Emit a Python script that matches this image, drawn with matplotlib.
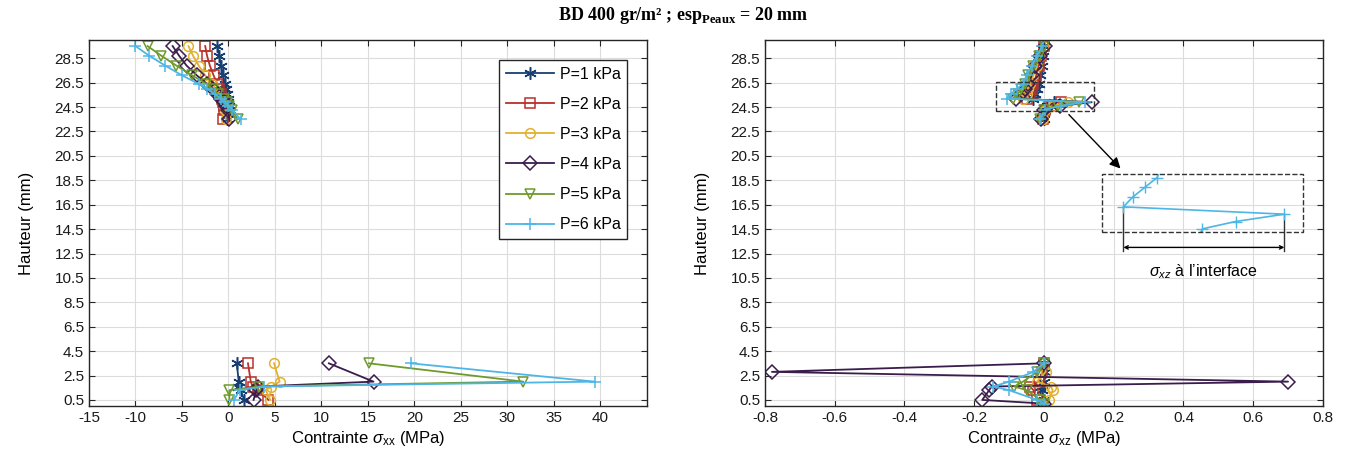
import matplotlib
matplotlib.use("Agg")
import matplotlib.pyplot as plt
import numpy as np
from matplotlib.patches import Rectangle

plt.rcParams['font.family'] = 'Liberation Sans'
plt.rcParams['axes.unicode_minus'] = False
plt.rcParams['mathtext.fontset'] = 'custom'
plt.rcParams['mathtext.rm'] = 'Liberation Sans'
plt.rcParams['mathtext.it'] = 'Liberation Sans:italic'
plt.rcParams['mathtext.bf'] = 'Liberation Serif:bold'

labels = ['P=1 kPa', 'P=2 kPa', 'P=3 kPa', 'P=4 kPa', 'P=5 kPa', 'P=6 kPa']
colors = ['#173f74', '#b8322a', '#e3b02f', '#3a1d4d', '#6f9a2c', '#4db6e6']
markers = [(6, 2, 0), 's', 'o', 'D', 'v', '+']

# heights (mm)
y_bot_xx = [0.5, 1.3, 1.6, 2.0, 3.5]
y_bot_xz = [0.2, 0.5, 1.3, 1.6, 2.0, 2.8, 3.5]
y_top = [23.5, 24.3, 24.6, 24.9, 25.2, 25.6, 26.0, 26.4, 27.1, 27.9, 28.7, 29.5]

# sigma_xx (MPa)
sxx_bot = [
    [1.7, 1.3, 1.0, 1.1, 0.9],
    [4.3, 3.2, 2.6, 2.4, 2.1],
    [4.5, 4.0, 4.6, 5.5, 4.9],
    [2.7, 3.0, 3.2, 15.6, 10.8],
    [0.1, 0.1, 3.3, 31.7, 15.1],
    [0.6, 1.2, 3.8, 39.4, 19.6],
]
sxx_top = [
    [-0.2, 0.2, 0.1, 0.0, -0.1, -0.2, -0.3, -0.4, -0.6, -0.8, -1.0, -1.2],
    [-0.6, -0.5, -0.5, -0.6, -0.7, -0.8, -1.0, -1.2, -1.6, -2.0, -2.3, -2.5],
    [-0.3, -0.4, -0.5, -0.6, -0.8, -1.1, -1.4, -1.8, -2.5, -3.2, -3.8, -4.3],
    [0.1, -0.1, -0.3, -0.5, -0.8, -1.2, -1.7, -2.3, -3.4, -4.5, -5.3, -6.0],
    [1.0, 0.4, 0.1, -0.2, -0.5, -1.1, -1.7, -2.4, -3.9, -5.6, -7.2, -8.7],
    [1.3, 0.4, 0.0, -0.4, -0.8, -1.5, -2.3, -3.2, -5.0, -6.8, -8.5, -10.0],
]

# sigma_xz (MPa)
sxz_bot = [
    [0.0, 0.0, -0.005, -0.01, 0.0, 0.002, 0.0],
    [0.0, -0.02, -0.03, -0.04, -0.015, -0.005, 0.0],
    [0.0, 0.015, 0.025, 0.02, -0.02, 0.005, 0.0],
    [0.0, -0.177, -0.157, -0.15, 0.70, -0.78, 0.0],
    [0.0, -0.01, -0.05, -0.085, -0.06, -0.02, 0.0],
    [0.0, -0.02, -0.10, -0.145, -0.10, -0.03, 0.0],
]
sxz_top = [
    [0.0, 0.002, 0.01, 0.03, -0.03, -0.025, -0.02, -0.015, -0.01, -0.006, -0.003, 0.0],
    [-0.002, 0.003, 0.02, 0.05, -0.05, -0.04, -0.035, -0.03, -0.022, -0.015, -0.008, 0.0],
    [-0.004, 0.002, 0.025, 0.07, -0.06, -0.05, -0.045, -0.04, -0.03, -0.02, -0.01, 0.0],
    [-0.008, 0.0, 0.045, 0.137, -0.08, -0.065, -0.055, -0.045, -0.035, -0.025, -0.012, 0.002],
    [-0.01, 0.001, 0.04, 0.10, -0.09, -0.075, -0.065, -0.055, -0.045, -0.03, -0.015, 0.0],
    [-0.01, 0.003, 0.049, 0.117, -0.107, -0.094, -0.077, -0.06, -0.05, -0.035, -0.02, -0.005],
]

yticks = np.arange(0.5, 29.0, 2.0)

fig = plt.figure(figsize=(13.52, 4.76), dpi=100)
ax1 = fig.add_axes([0.0658, 0.147, 0.4127, 0.769])
ax2 = fig.add_axes([0.5658, 0.147, 0.4127, 0.769])


def style(ax):
    ax.set_ylim(0, 30)
    ax.set_yticks(yticks)
    ax.set_yticklabels(['%.1f' % v for v in yticks])
    ax.grid(True, color='#dcdcdc', linewidth=0.8)
    ax.set_axisbelow(True)
    ax.tick_params(direction='in', top=True, right=True, labelsize=11,
                   length=4, color='#262626', labelcolor='#1a1a1a')
    for s in ax.spines.values():
        s.set_color('#262626')
        s.set_linewidth(1.0)
    ax.set_ylabel('Hauteur (mm)', fontsize=12, labelpad=15)


for i in range(6):
    xa = np.concatenate([sxx_bot[i], [np.nan], sxx_top[i]])
    ya = np.concatenate([y_bot_xx, [np.nan], y_top])
    xb = np.concatenate([sxz_bot[i], [np.nan], sxz_top[i]])
    yb = np.concatenate([y_bot_xz, [np.nan], y_top])
    ms = 9 if i in (0, 5) else 7
    kw = dict(color=colors[i], marker=markers[i], markersize=ms, linewidth=1.3,
              markerfacecolor='none', markeredgewidth=1.1)
    ax1.plot(xa, ya, label=labels[i], **kw)
    ax2.plot(xb, yb, **kw)

style(ax1)
ax1.set_xlim(-15, 45)
ax1.set_xticks(np.arange(-15, 41, 5))
ax1.set_xlabel(r'Contrainte $\sigma_{\rm xx}$ (MPa)', fontsize=12, labelpad=3)
leg = ax1.legend(loc='upper right', bbox_to_anchor=(0.965, 0.945), fontsize=11.5,
                 fancybox=False, framealpha=1, edgecolor='#262626',
                 labelspacing=0.95, handlelength=3.0, handletextpad=0.4,
                 borderaxespad=0)
leg.get_frame().set_linewidth(1.0)

style(ax2)
ax2.set_xlim(-0.8, 0.8)
ax2.set_xticks(np.round(np.arange(-0.8, 0.81, 0.2), 1))
ax2.set_xticklabels(['-0.8', '-0.6', '-0.4', '-0.2', '0', '0.2', '0.4', '0.6', '0.8'])
ax2.set_xlabel(r'Contrainte $\sigma_{\rm xz}$ (MPa)', fontsize=12, labelpad=3)

# zoom box and its enlarged view
bx0, bx1, by0, by1 = -0.137, 0.143, 24.16, 26.53
ix0, ix1, iy0, iy1 = 0.166, 0.743, 14.24, 18.99
ax2.add_patch(Rectangle((bx0, by0), bx1 - bx0, by1 - by0, fill=False,
                        linestyle='--', edgecolor='#333333', linewidth=1.0, zorder=5))
inset = Rectangle((ix0, iy0), ix1 - ix0, iy1 - iy0, facecolor='none',
                  linestyle='--', edgecolor='#333333', linewidth=1.0, zorder=5)
ax2.add_patch(inset)

px = np.array(sxz_top[5])
py = np.array(y_top)
qx = ix0 + (px - bx0) / (bx1 - bx0) * (ix1 - ix0)
qy = iy0 + (py - by0) / (by1 - by0) * (iy1 - iy0)
zl, = ax2.plot(qx, qy, color=colors[5], marker='+', markersize=8,
               linewidth=1.2, markeredgewidth=1.0, zorder=4)
zl.set_clip_path(inset)

ax2.annotate('', xy=(0.225, 19.3), xytext=(0.066, 24.05),
             arrowprops=dict(arrowstyle='-|>', color='black', lw=1.0,
                             mutation_scale=16))

inside = (py >= by0) & (py <= by1)
xl = qx[inside].min()
xr = qx[inside].max()
yl = qy[inside][np.argmin(qx[inside])]
yr = qy[inside][np.argmax(qx[inside])]
ax2.plot([xl, xl], [yl, 12.7], color='#333333', linewidth=1.0)
ax2.plot([xr, xr], [yr, 12.7], color='#333333', linewidth=1.0)
ax2.annotate('', xy=(xl, 13.0), xytext=(xr, 13.0),
             arrowprops=dict(arrowstyle='<->', color='black', lw=1.0,
                             mutation_scale=6, shrinkA=0, shrinkB=0))
ax2.text((xl + xr) / 2, 11.0, r'$\sigma_{xz}$ à l’interface', fontsize=11.5,
         ha='center', va='center')

fig.text(0.505, 0.968, r'BD 400 gr/m² ; esp$_{\bf Peaux}$ = 20 mm',
         family='Liberation Serif', weight='bold', fontsize=13,
         ha='center', va='center')

fig.savefig('out.png', dpi=100)
